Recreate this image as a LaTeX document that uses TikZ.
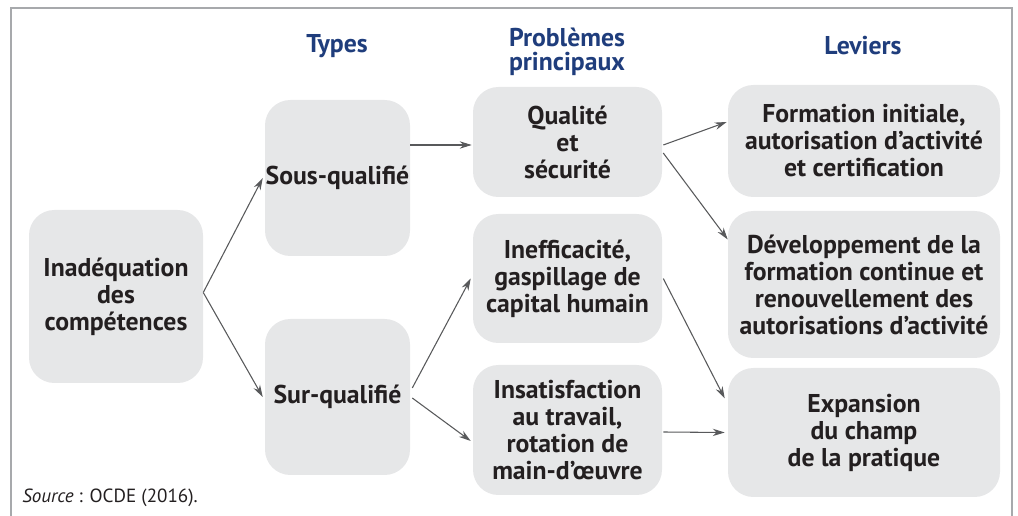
\documentclass[tikz,border=0pt]{standalone}
\usepackage{fontspec}
\setmainfont{PT Sans}
\usetikzlibrary{arrows.meta,calc}
\definecolor{boxgray}{HTML}{E6E7E8}
\definecolor{linkgray}{HTML}{58595B}
\definecolor{headblue}{HTML}{1F3D7C}
\definecolor{framegray}{HTML}{A7A9AC}
\definecolor{inkblack}{HTML}{231F20}
\tikzset{
  box/.style 2 args={fill=boxgray, rounded corners=19pt, inner sep=0pt,
    minimum width=#1, minimum height=#2, align=center, text=inkblack,
    font=\bfseries\fontsize{19.3}{20.25}\selectfont},
  head/.style={align=center, text=headblue, inner sep=0pt,
    font=\bfseries\fontsize{19.3}{18}\selectfont},
  link/.style={draw=linkgray, line width=0.8pt, -{Stealth[length=9pt,width=5.5pt]}}
}
\begin{document}
\begin{tikzpicture}[x=0.75pt,y=-0.75pt]
  \useasboundingbox (0,0) rectangle (1018,516);
  \draw[framegray, line width=1.1pt] (11,516) -- (11,8) -- (1012,8) -- (1012,516);

  \node[head] (types) at (337,46) {Types};
  \node[head] (probs) at (567,52) {Problèmes\\principaux};
  \node[head] (levs) at (863,46) {Leviers};

  \node[box={130.5pt}{129.75pt}] (inad) at (116,296.5) {Inadéquation\\des\\compétences};
  \node[box={108.75pt}{117pt}] (sous) at (337.5,178) {Sous-qualifié};
  \node[box={108.75pt}{117pt}] (sur) at (337.5,397) {Sur-qualifié};
  \node[box={141.75pt}{82.5pt}] (qual) at (567.5,142) {Qualité\\et\\sécurité};
  \node[box={141.75pt}{96.75pt}] (ineff) at (567.5,278.5) {Inefficacité,\\gaspillage de\\capital humain};
  \node[box={141.75pt}{97.5pt}] (insat) at (567.5,430) {Insatisfaction\\au travail,\\rotation de\\main-d’œuvre};
  \node[box={204pt}{84pt}] (form) at (864,141) {Formation initiale,\\autorisation d’activité\\et certification};
  \node[box={204pt}{110.25pt}] (dev) at (864,284.5) {Développement de la\\formation continue et\\renouvellement des\\autorisations d’activité};
  \node[box={204pt}{96.75pt}] (exp) at (864,432.5) {Expansion\\du champ\\de la pratique};

  \node[anchor=base west, inner sep=0pt, text=inkblack,
    font=\fontsize{14.3}{16}\selectfont] (src) at (22,503) {\textit{Source} : OCDE (2016).};

  \begin{scope}[link]
    \draw ($(inad.east)+(0,-4)$) -- ($(sous.west)+(-2,0)$);
    \draw ($(inad.east)+(0,-4)$) -- ($(sur.west)+(-2,0)$);
    \draw ($(sous.east)+(0,-33)$) -- ($(qual.west)+(-1,3)$);
    \draw ($(sur.east)+(2,-9)$) -- ($(ineff.west)+(-2,0)$);
    \draw ($(sur.east)+(2,1)$) -- ($(insat.west)+(-2,11)$);
    \draw ($(qual.east)+(1,3)$) -- ($(form.west)+(-1,-19)$);
    \draw ($(qual.east)+(1,11)$) -- ($(dev.west)+(0,-45)$);
    \draw ($(ineff.east)+(1,0)$) -- ($(exp.west)+(-3,-34)$);
    \draw ($(insat.east)+(1,2)$) -- ($(exp.west)+(-3,0)$);
  \end{scope}
\end{tikzpicture}
\end{document}
